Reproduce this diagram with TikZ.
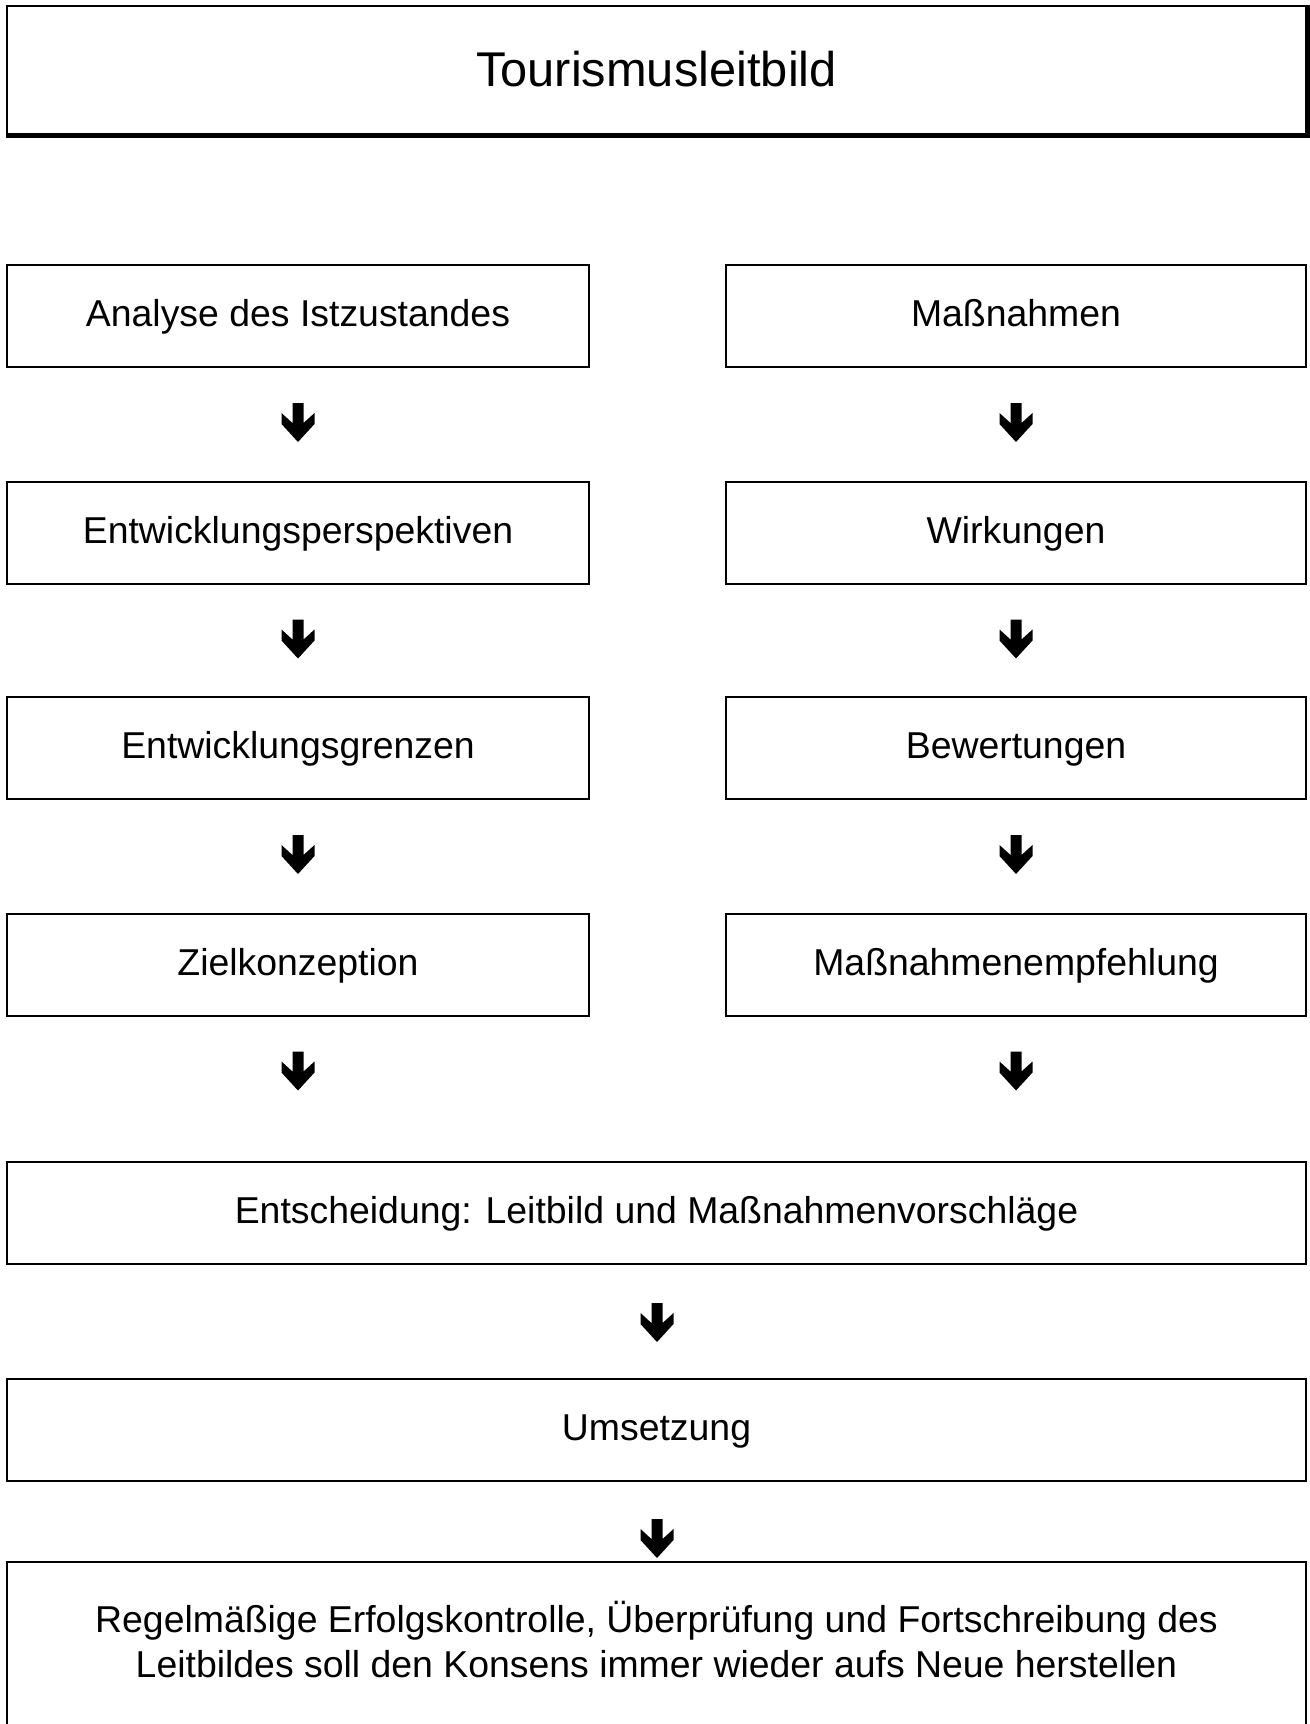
\documentclass[tikz,border=0pt]{standalone}
\usepackage{fontspec}
\setmainfont{Liberation Sans}
\usetikzlibrary{calc}
\tikzset{
  box/.style={draw=black, line width=1pt, rectangle, inner sep=0pt, align=center,
    font=\fontsize{18.7}{22.4}\selectfont},
  one/.style={text height=13.4pt, text depth=2.5pt},
  lbox/.style={box, one, minimum width=291pt, minimum height=51pt},
  rbox/.style={box, one, minimum width=290pt, minimum height=51pt},
  wbox/.style={box, one, minimum width=649.5pt, minimum height=51pt},
  dnarrow/.pic={\fill[black] (-5.5,0) -- (5.5,0) -- (5.5,20) -- (16.5,10) -- (16.5,21) -- (0,39) -- (-16.5,21) -- (-16.5,10) -- (-5.5,20) -- cycle;}
}
\begin{document}
\begin{tikzpicture}[x=0.5pt,y=-0.5pt]
\useasboundingbox (0,0) rectangle (1310,1724);
% title box
\node[box, minimum width=649.5pt, minimum height=64pt, text height=17.5pt, text depth=1pt, font=\fontsize{24.4}{28}\selectfont] (title) at (656.5,70) {Tourismusleitbild};
\draw[line width=2pt] ($(title.south west)+(0,1)$) -- ($(title.south east)+(1,1)$) -- ($(title.north east)+(1,0)$);
% left column
\node[lbox] (a1) at (298,316) {Analyse des Istzustandes};
\node[lbox] (a2) at (298,532.5) {Entwicklungsperspektiven};
\node[lbox] (a3) at (298,748) {Entwicklungsgrenzen};
\node[lbox] (a4) at (298,964.5) {Zielkonzeption};
% right column
\node[rbox] (b1) at (1016,316) {Maßnahmen};
\node[rbox] (b2) at (1016,532.5) {Wirkungen};
\node[rbox] (b3) at (1016,748) {Bewertungen};
\node[rbox] (b4) at (1016,964.5) {Maßnahmenempfehlung};
% full width
\node[wbox] (c1) at (656.5,1213) {Entscheidung: Leitbild und Maßnahmenvorschläge};
\node[wbox] (c2) at (656.5,1430) {Umsetzung};
\node[box, minimum width=649.5pt, minimum height=83pt, text depth=5.5pt] (c3) at (656.5,1645) {Regelmäßige Erfolgskontrolle, Überprüfung und Fortschreibung des\\Leitbildes soll den Konsens immer wieder aufs Neue herstellen};
% arrows
\foreach \n in {a1,a2,a3,a4,b1,b2,b3,b4}{
  \pic at ($(\n.south)+(0,35)$) {dnarrow};
}
\pic at ($(c1.south)+(0.5,38)$) {dnarrow};
\pic at ($(c2.south)+(0.5,37)$) {dnarrow};
\end{tikzpicture}
\end{document}
